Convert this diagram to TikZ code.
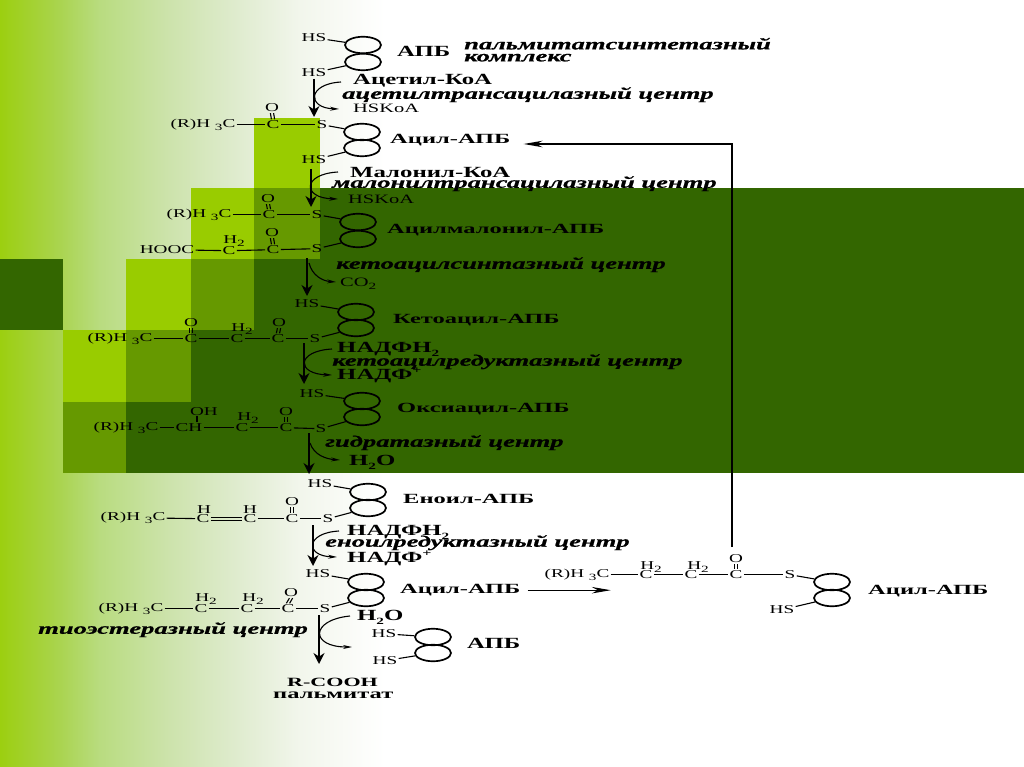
\documentclass[tikz,border=0pt]{standalone}
\usepackage{fontspec}
\usepackage{xcolor}
\usetikzlibrary{arrows.meta,shapes.geometric}
\newfontfamily\chemfont[FakeStretch=1.6]{Liberation Serif}
\newfontfamily\labelfont[FakeStretch=1.75]{Liberation Serif}
\newfontfamily\enzymefont[FakeStretch=1.66,FakeBold=0.8]{Liberation Serif}
\definecolor{lime}{HTML}{99CC00}
\definecolor{midleaf}{HTML}{669900}
\definecolor{darkleaf}{HTML}{336600}
\definecolor{sidea}{HTML}{9CCF10}
\definecolor{sideb}{HTML}{AAD450}
\definecolor{sidec}{HTML}{B9DC80}
\definecolor{sided}{HTML}{CDE3AC}
\definecolor{sidee}{HTML}{E0ECD0}
\definecolor{sidef}{HTML}{F2F6EC}
\pgfdeclarehorizontalshading{sideshade}{100bp}{color(0bp)=(sidea); color(25bp)=(sidea); color(32.8bp)=(sideb); color(38bp)=(sidec); color(47bp)=(sided); color(56.2bp)=(sidee); color(64bp)=(sidef); color(75bp)=(white); color(100bp)=(white)}
\newcommand{\lowidx}[1]{\raisebox{-0.5ex}{\fontsize{9.5}{9.5}\selectfont #1}}
\newcommand{\highidx}[1]{\raisebox{0.8ex}{\fontsize{10}{10}\selectfont #1}}
\tikzset{
  atom/.style={font=\chemfont\fontsize{12}{12}\selectfont,inner sep=1.2pt,yshift=-0.7pt},
  atomname/.style={font=\chemfont\fontsize{12.8}{12.8}\selectfont,inner sep=0pt,anchor=west,yshift=-0.7pt},
  chemname/.style={font=\labelfont\bfseries\fontsize{14}{14}\selectfont,inner sep=0pt,anchor=west,yshift=-1.2pt},
  acidname/.style={font=\labelfont\bfseries\fontsize{12.6}{12.6}\selectfont,inner sep=0pt,anchor=west,yshift=-1.2pt},
  bigname/.style={font=\chemfont\bfseries\fontsize{15.5}{15.5}\selectfont,inner sep=0pt,anchor=west,yshift=-1.2pt},
  enzyme/.style={font=\enzymefont\bfseries\itshape\fontsize{16}{16}\selectfont,inner sep=0pt,anchor=west,yshift=-0.7pt},
  ring/.style={draw,ellipse,line width=1.7pt,minimum width=36pt,minimum height=16.5pt,inner sep=0pt},
  bond/.style={line width=1.1pt},
  mainarrow/.style={line width=1.8pt,-{Stealth[length=11pt,width=11pt]}},
  sidearrow/.style={line width=1.1pt,-{Stealth[length=9pt,width=4pt]}},
  retarrow/.style={line width=1.6pt,-{Stealth[length=19pt,width=6.5pt]}}
}
\begin{document}
\begin{tikzpicture}[x=1pt,y=-1pt]
  \useasboundingbox (0,0) rectangle (1024,767);
  % background
  \shade[shading=sideshade] (0,0) rectangle (385,767);
  \fill[white] (385,0) rectangle (1024,767);
  \foreach \xa/\ya/\xb/\yb/\col in {
    254/118/320/188/lime, 191/188/254/259/lime, 126/259/191/330/lime, 63/330/126/402/lime,
    254/188/320/259/midleaf, 191/259/254/330/midleaf, 126/330/191/402/midleaf, 63/402/126/473/midleaf,
    320/188/1024/259/darkleaf, 254/259/1024/330/darkleaf, 191/330/1024/402/darkleaf,
    126/402/1024/473/darkleaf, 0/259/63/330/darkleaf}{
      \fill[\col] (\xa,\ya) rectangle (\xb,\yb);
  }
  % rings of the carrier protein
  \foreach \n/\x/\ya/\yb in {
    1/363/45/62, 2/362/132/148, 3/358/222/239, 4/356/312/328, 5/362/401/417,
    6/368/492/508, 7/366/582/598, 8/433/637/653, 9/832/582/598}{
      \node[ring] (ring\n a) at (\x,\ya) {};
      \node[ring] (ring\n b) at (\x,\yb) {};
  }
  % atoms
  \foreach \n/\x/\y/\txt in {
    hs1a/314/37/HS, hs1b/314/72/HS,
    r2/203/124/{(R)H \lowidx{3}C}, c2/273/124/C, o2/272/107/O, s2/322/124/S, hs2/314/159/HS,
    r3/199/214/{(R)H \lowidx{3}C}, c3a/269/214/C, o3a/268/198/O, s3a/317/214/S,
    hooc/167/249/HOOC, h3/234/240/{H\lowidx{2}}, c3b/229/250/C, c3c/273/249/C, o3c/272/232/O, s3c/317/248/S,
    hs4/307/303/HS, r4/120/338/{(R)H \lowidx{3}C}, c4a/191/338/C, o4a/191/322/O, h4/242/328/{H\lowidx{2}},
    c4b/237/338/C, c4c/278/338/C, o4c/279/322/O, s4/315/338/S,
    hs5/312/393/HS, r5/126/427/{(R)H \lowidx{3}C}, ch5/189/427/CH, oh5/204/411/OH, h5/248/417/{H\lowidx{2}},
    c5b/242/427/C, c5c/286/427/C, o5/286/411/O, s5/321/428/S,
    hs6/320/483/HS, r6/133/517/{(R)H \lowidx{3}C}, ha6/204/509/H, c6a/203/518/C, hb6/250/509/H, c6b/250/518/C,
    c6c/292/518/C, o6/292/501/O, s6/328/518/S,
    hs7/318/573/HS, r7/131/608/{(R)H \lowidx{3}C}, ha7/206/598/{H\lowidx{2}}, c7a/201/608/C, hb7/253/598/{H\lowidx{2}},
    c7b/247/608/C, c7c/288/608/C, o7/291/592/O, s7/325/608/S,
    hs8a/384/633/HS, hs8b/385/660/HS,
    r9/577/574/{(R)H \lowidx{3}C}, c9a/646/574/C, ha9/651/566/{H\lowidx{2}}, c9b/691/574/C, hb9/698/566/{H\lowidx{2}},
    c9c/736/574/C, o9/736/558/O, s9/790/574/S, hs9/782/609/HS}{
      \node[atom] (\n) at (\x,\y) {\txt};
  }
  \foreach \a/\b in {
    hs1a/ring1a, hs1b/ring1b,
    r2/c2, c2/s2, s2/ring2a, hs2/ring2b,
    r3/c3a, c3a/s3a, s3a/ring3a, hooc/c3b, c3b/c3c, c3c/s3c, s3c/ring3b,
    hs4/ring4a, r4/c4a, c4a/c4b, c4b/c4c, c4c/s4, s4/ring4b,
    hs5/ring5a, r5/ch5, ch5/c5b, c5b/c5c, c5c/s5, s5/ring5b,
    hs6/ring6a, r6/c6a, c6b/c6c, c6c/s6, s6/ring6b,
    hs7/ring7a, r7/c7a, c7a/c7b, c7b/c7c, c7c/s7, s7/ring7b,
    hs8a/ring8a, hs8b/ring8b,
    r9/c9a, c9a/c9b, c9b/c9c, c9c/s9, s9/ring9a, hs9/ring9b}{
      \draw[bond] (\a) -- (\b);
  }
  \foreach \a/\b in {o2/c2, o3a/c3a, o3c/c3c, o4a/c4a, o4c/c4c, o5/c5c, o6/c6c, o7/c7c, o9/c9c}{
    \draw[bond] ([xshift=-1.6pt]\a.south) -- ([xshift=-1.6pt]\b.north);
    \draw[bond] ([xshift=1.6pt]\a.south) -- ([xshift=1.6pt]\b.north);
  }
  \draw[bond] ([yshift=-1.6pt]c6a.east) -- ([yshift=-1.6pt]c6b.west);
  \draw[bond] ([yshift=1.6pt]c6a.east) -- ([yshift=1.6pt]c6b.west);
  \draw[bond] ([xshift=8pt]ch5.north) -- ++(0,-6);
  % labels
  \foreach \n/\x/\y/\sty/\txt in {
    apb1/397/50/bigname/АПБ,
    acetyl/353/80/bigname/Ацетил-КоА,
    hskoa1/353/108/atomname/HSKoA,
    acyl2/390/139/chemname/Ацил-АПБ,
    malonyl/350/171/bigname/Малонил-КоА,
    hskoa2/348/199/atomname/HSKoA,
    acyl3/387/229/chemname/Ацилмалонил-АПБ,
    coo/340/283/atomname/{CO\lowidx{2}},
    keto/393/319/chemname/Кетоацил-АПБ,
    nadph4/337/348/bigname/{НАДФН\lowidx{2}},
    nadp4/337/374/bigname/{НАДФ\highidx{+}},
    oxy/397/408/chemname/Оксиацил-АПБ,
    water5/349/461/bigname/{H\lowidx{2}O},
    enoyl/403/498/chemname/Еноил-АПБ,
    nadph6/347/531/bigname/{НАДФН\lowidx{2}},
    nadp6/347/557/bigname/{НАДФ\highidx{+}},
    acyl7/400/589/chemname/Ацил-АПБ,
    water7/357/616/bigname/{H\lowidx{2}O},
    apb8/467/642/bigname/АПБ,
    acyl9/868/590/chemname/Ацил-АПБ,
    rcooh/287/681/acidname/R-COOH,
    palm/273/694/chemname/пальмитат,
    synth/464/43/enzyme/пальмитатсинтетазный,
    compl/464/57/enzyme/комплекс,
    eacet/342/94/enzyme/ацетилтрансацилазный центр,
    emalon/332/183/enzyme/малонилтрансацилазный центр,
    eketo/336/264/enzyme/кетоацилсинтазный центр,
    ereduct/332/361/enzyme/кетоацилредуктазный центр,
    ehydr/325/442/enzyme/гидратазный центр,
    eenoyl/325/542/enzyme/еноилредуктазный центр,
    ethio/38/629/enzyme/тиоэстеразный центр}{
      \node[\sty] (\n) at (\x,\y) {\txt};
  }
  % reaction arrows
  \foreach \n/\x/\ya/\yb in {1/314/79/117, 2/311/169/207, 3/307/258/296, 4/304/343/384, 5/309/433/474, 6/313/525/566, 7/319/615/664}{
    \coordinate (top\n) at (\x,\ya);
    \coordinate (end\n) at (\x,\yb);
    \draw[mainarrow] (top\n) -- (end\n);
  }
  \draw[sidearrow] (341,82) .. controls (307,84) and (307,108) .. (339,109);
  \draw[sidearrow] (338,172) .. controls (302,174) and (302,198) .. (338,199);
  \draw[sidearrow] (309,263) .. controls (312,275) and (322,281) .. (336,282);
  \draw[sidearrow] (332,349) .. controls (296,351) and (296,374) .. (332,375);
  \draw[sidearrow] (310,443) .. controls (314,455) and (326,459) .. (340,460);
  \draw[sidearrow] (339,531) .. controls (305,533) and (305,556) .. (337,557);
  \draw[sidearrow] (350,616) .. controls (310,620) and (310,647) .. (352,647);
  % return of the acyl group
  \coordinate (corner) at (732,144);
  \coordinate (foot) at (732,547);
  \draw[retarrow] (foot) -- (corner) -- ([xshift=13pt]acyl2.east |- corner);
  \draw[retarrow,line width=1pt] ([xshift=7pt]acyl7.east) -- (r9.south east |- acyl7.east);
\end{tikzpicture}
\end{document}
